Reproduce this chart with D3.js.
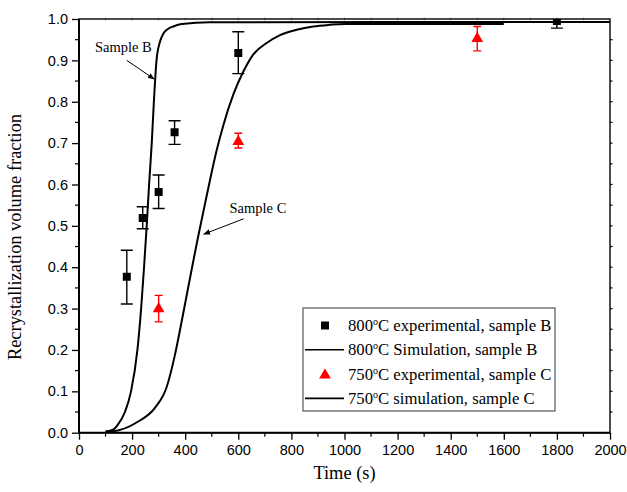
<!DOCTYPE html>
<html>
<head>
<meta charset="utf-8">
<script src="https://cdn.jsdelivr.net/npm/d3@7"></script>
<style>
  body { margin: 0; background: #fff; }
  svg { display: block; }
</style>
</head>
<body>
<div id="chart"></div>
<script>
// experimental points, sample B (800C): time, fraction, err low, err high
var expB_time = [180, 240, 300, 360, 600, 1800];
var expB_frac = [0.377, 0.519, 0.582, 0.726, 0.918, 0.995];
var expB_lo   = [0.311, 0.493, 0.542, 0.697, 0.868, 0.978];
var expB_hi   = [0.441, 0.546, 0.623, 0.754, 0.969, 1.012];

// experimental points, sample C (750C)
var expC_time = [300, 600, 1500];
var expC_frac = [0.302, 0.706, 0.955];
var expC_lo   = [0.268, 0.688, 0.923];
var expC_hi   = [0.332, 0.724, 0.982];

// simulation curves
var simB_time = [100, 130, 147, 173, 196, 220, 234, 245, 255, 264, 274, 282, 292, 305, 318, 335, 355, 387, 493, 2000];
var simB_frac = [0.003, 0.008, 0.02, 0.05, 0.1, 0.2, 0.3, 0.4, 0.5, 0.6, 0.7, 0.8, 0.9, 0.945, 0.965, 0.976, 0.982, 0.988, 0.992, 0.993];

var simC_time = [100, 150, 223, 286, 330, 362, 387, 405, 426, 449, 480, 519, 544, 581, 619, 656, 707, 757, 820, 882, 945, 1000, 1600];
var simC_frac = [0.002, 0.006, 0.027, 0.06, 0.11, 0.19, 0.27, 0.33, 0.40, 0.475, 0.57, 0.684, 0.744, 0.817, 0.873, 0.914, 0.942, 0.961, 0.974, 0.982, 0.986, 0.988, 0.988];

var xTicks = [0, 200, 400, 600, 800, 1000, 1200, 1400, 1600, 1800, 2000];
var yTicks = [0.0, 0.1, 0.2, 0.3, 0.4, 0.5, 0.6, 0.7, 0.8, 0.9, 1.0];

var legendLabels = [
  {t: "800", rest: "C experimental, sample B", kind: "square"},
  {t: "800", rest: "C Simulation, sample B", kind: "line"},
  {t: "750", rest: "C experimental, sample C", kind: "triangle"},
  {t: "750", rest: "C simulation, sample C", kind: "line"}
];

var W = 627, H = 492;
// plot box (note: "top" is taken by window.top, so use other names)
var pLeft = 79, pRight = 610, pTop = 19, pBottom = 432.7;

var svg = d3.select("#chart").append("svg")
  .attr("width", W).attr("height", H);

var x = d3.scaleLinear().domain([0, 2000]).range([pLeft, pRight]);
var y = d3.scaleLinear().domain([0, 1]).range([pBottom, pTop]);

var defs = svg.append("defs");
defs.append("clipPath").attr("id", "plotclip")
  .append("rect").attr("x", pLeft).attr("y", pTop).attr("width", pRight - pLeft).attr("height", pBottom - pTop);

defs.append("marker")
  .attr("id", "arrow").attr("viewBox", "0 0 10 10").attr("refX", 9).attr("refY", 5)
  .attr("markerWidth", 7).attr("markerHeight", 7).attr("orient", "auto")
  .append("path").attr("d", "M0,1 L10,5 L0,9 z").attr("fill", "#000");

// axes: bottom / left with labels, top / right only small ticks
var xAxis = d3.axisBottom(x).tickValues(xTicks).tickSize(7).tickPadding(5).tickFormat(d3.format("d"));
var yAxis = d3.axisLeft(y).tickValues(yTicks).tickSize(7).tickPadding(4).tickFormat(d3.format(".1f"));

var minorX = d3.range(100, 2000, 200);
var minorY = d3.range(0.05, 1, 0.1);

var gx = svg.append("g").attr("transform", "translate(0," + pBottom + ")").call(xAxis);
var gy = svg.append("g").attr("transform", "translate(" + pLeft + ",0)").call(yAxis);

[gx, gy].forEach(function(g) {
  g.attr("font-size", null).attr("font-family", null);
  g.select(".domain").remove();
  g.selectAll("line").attr("stroke", "#000").attr("stroke-width", 1.3);
  g.selectAll("text").attr("font-family", "'Liberation Sans', Arial, sans-serif")
    .attr("font-size", "14.5px").attr("fill", "#000");
});

// minor ticks
svg.append("g").selectAll("line").data(minorX).enter().append("line")
  .attr("x1", d => x(d)).attr("x2", d => x(d))
  .attr("y1", pBottom).attr("y2", pBottom + 4)
  .attr("stroke", "#000").attr("stroke-width", 1.2);
svg.append("g").selectAll("line").data(minorY).enter().append("line")
  .attr("x1", pLeft - 4).attr("x2", pLeft)
  .attr("y1", d => y(d)).attr("y2", d => y(d))
  .attr("stroke", "#000").attr("stroke-width", 1.2);

// tiny ticks on top and right
svg.append("g").selectAll("line").data(d3.range(100, 2000, 100)).enter().append("line")
  .attr("x1", d => x(d)).attr("x2", d => x(d))
  .attr("y1", pTop - 1.5).attr("y2", pTop + 1.5)
  .attr("stroke", "#888").attr("stroke-width", 0.8);
svg.append("g").selectAll("line").data(d3.range(0.05, 1, 0.05)).enter().append("line")
  .attr("x1", pRight).attr("x2", pRight + 2.5)
  .attr("y1", d => y(d)).attr("y2", d => y(d))
  .attr("stroke", "#000").attr("stroke-width", 1.2);

// frame
svg.append("rect").attr("x", pLeft).attr("y", pTop)
  .attr("width", pRight - pLeft).attr("height", pBottom - pTop)
  .attr("fill", "none").attr("stroke", "#000").attr("stroke-width", 1.4);
svg.append("line").attr("x1", pLeft).attr("x2", pRight).attr("y1", pBottom).attr("y2", pBottom)
  .attr("stroke", "#000").attr("stroke-width", 2);
svg.append("line").attr("x1", pLeft).attr("x2", pLeft).attr("y1", pTop).attr("y2", pBottom)
  .attr("stroke", "#000").attr("stroke-width", 2);

var plot = svg.append("g").attr("clip-path", "url(#plotclip)");

var line = d3.line().x(d => x(d[0])).y(d => y(d[1])).curve(d3.curveMonotoneX);

plot.append("path").datum(d3.zip(simB_time, simB_frac))
  .attr("d", line).attr("fill", "none").attr("stroke", "#000").attr("stroke-width", 2);
plot.append("path").datum(d3.zip(simC_time, simC_frac))
  .attr("d", line).attr("fill", "none").attr("stroke", "#000").attr("stroke-width", 2);

function errorBars(times, lo, hi, color, cap) {
  var g = plot.append("g");
  times.forEach(function(t, i) {
    g.append("line").attr("x1", x(t)).attr("x2", x(t)).attr("y1", y(lo[i])).attr("y2", y(hi[i]))
      .attr("stroke", color).attr("stroke-width", 1.4);
    [lo[i], hi[i]].forEach(function(v) {
      g.append("line").attr("x1", x(t) - cap).attr("x2", x(t) + cap).attr("y1", y(v)).attr("y2", y(v))
        .attr("stroke", color).attr("stroke-width", 1.4);
    });
  });
}

errorBars(expB_time, expB_lo, expB_hi, "#000", 6);
errorBars(expC_time, expC_lo, expC_hi, "#f00", 4);

var sq = d3.symbol().type(d3.symbolSquare).size(64);
var tri = d3.symbol().type(d3.symbolTriangle).size(60);

plot.append("g").selectAll("path").data(d3.zip(expB_time, expB_frac)).enter().append("path")
  .attr("d", sq).attr("transform", d => "translate(" + x(d[0]) + "," + y(d[1]) + ")")
  .attr("fill", "#000");
plot.append("g").selectAll("path").data(d3.zip(expC_time, expC_frac)).enter().append("path")
  .attr("d", tri).attr("transform", d => "translate(" + x(d[0]) + "," + (y(d[1]) + 1) + ")")
  .attr("fill", "#f00");

// annotations
var serif = "'Liberation Serif', 'Times New Roman', serif";
svg.append("text").attr("x", x(60)).attr("y", y(0.9) - 8).text("Sample B")
  .attr("font-family", serif).attr("font-size", "14.5px");
svg.append("line").attr("x1", x(180)).attr("y1", y(0.90)).attr("x2", x(283)).attr("y2", y(0.855))
  .attr("stroke", "#000").attr("stroke-width", 1).attr("marker-end", "url(#arrow)");

svg.append("text").attr("x", x(567)).attr("y", y(0.53)).text("Sample C")
  .attr("font-family", serif).attr("font-size", "14.5px");
svg.append("line").attr("x1", x(620)).attr("y1", y(0.517)).attr("x2", x(470)).attr("y2", y(0.48))
  .attr("stroke", "#000").attr("stroke-width", 1).attr("marker-end", "url(#arrow)");

// axis titles
svg.append("text").attr("x", x(1000)).attr("y", 479).attr("text-anchor", "middle")
  .attr("font-family", serif).attr("font-size", "18.4px").text("Time (s)");
svg.append("text").attr("transform", "translate(21,237) rotate(-90)")
  .attr("text-anchor", "middle").attr("font-family", serif).attr("font-size", "18.4px")
  .text("Recrystallization volume fraction");

// legend
var lg = svg.append("g").attr("transform", "translate(303,308)");
lg.append("rect").attr("width", 252).attr("height", 103)
  .attr("fill", "#fff").attr("stroke", "#555").attr("stroke-width", 1.2);

legendLabels.forEach(function(d, i) {
  var cy = 17.5 + i * 24.3;
  if (d.kind === "square") {
    lg.append("path").attr("d", sq).attr("transform", "translate(22," + cy + ")").attr("fill", "#000");
  } else if (d.kind === "triangle") {
    lg.append("path").attr("d", tri).attr("transform", "translate(22," + (cy + 1) + ")").attr("fill", "#f00");
  } else {
    lg.append("line").attr("x1", 2).attr("x2", 41).attr("y1", cy).attr("y2", cy)
      .attr("stroke", "#000").attr("stroke-width", 1.6);
  }
  var t = lg.append("text").attr("x", 45).attr("y", cy + 5.5)
    .attr("font-family", serif).attr("font-size", "16.7px").attr("fill", "#000");
  t.append("tspan").text(d.t);
  t.append("tspan").attr("dy", -6).attr("font-size", "10px").text("o");
  t.append("tspan").attr("dy", 6).text(d.rest);
});
</script>
</body>
</html>
